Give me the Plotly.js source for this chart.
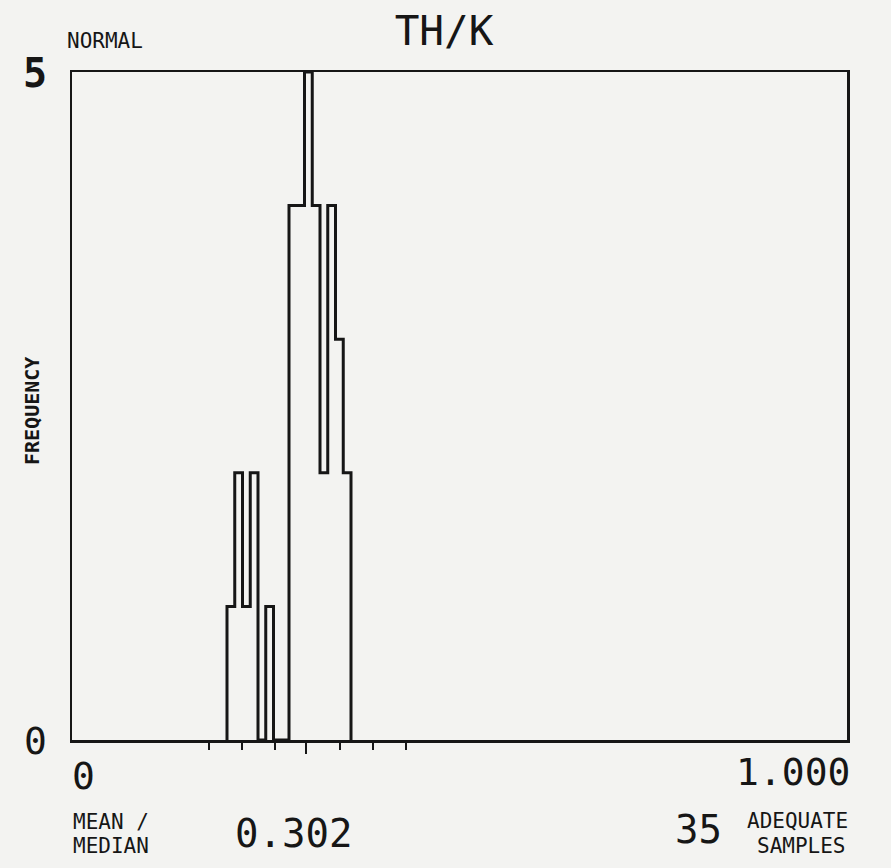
<!DOCTYPE html>
<html>
<head>
<meta charset="utf-8">
<script src="https://cdn.plot.ly/plotly-3.0.1.min.js"></script>
<style>
  html, body { margin: 0; padding: 0; background: #f3f3f1; }
  #chart { width: 891px; height: 868px; }
</style>
</head>
<body>
<div id="chart"></div>
<script>
// ---- data ----
const chartTitle = "TH/K";
const distributionLabel = "NORMAL";
const yAxisLabel = "FREQUENCY";
const binEdges = [0.20, 0.21, 0.22, 0.23, 0.24, 0.25, 0.26, 0.27, 0.28,
                  0.29, 0.30, 0.31, 0.32, 0.33, 0.34, 0.35, 0.36];
const binCounts = [1, 2, 1, 2, 0, 1, 0, 0, 4, 4, 5, 4, 2, 4, 3, 2];
const meanValue = 0.302;
const statLabel = ["MEAN /", "MEDIAN"];
const meanText = "0.302";
const sampleCount = "35";
const sampleLabel = ["ADEQUATE", "SAMPLES"];
const xTickValues = [0.177, 0.219, 0.262, 0.346, 0.389, 0.431];
const xRange = [0, 1];
const xRangeLabels = ["0", "1.000"];
const yRange = [0, 5];
const yRangeLabels = ["0", "5"];

// ---- step outline built from bins ----
const stepX = [binEdges[0]].concat(binEdges);
const stepY = [0].concat(binCounts).concat([0]);

const W = 891, H = 868;
const M = { l: 72, r: 44, t: 72, b: 128 };
const PW = W - M.l - M.r, PH = H - M.t - M.b;
const px = v => (v - M.l) / PW;      // pixel -> paper x
const py = v => (H - M.b - v) / PH;  // pixel -> paper y

const FONT = "DejaVu Sans Mono";
const INK = "#161616";

function ann(text, x, y, xa, size, extra) {
  return Object.assign({
    text: text, xref: "paper", yref: "paper", x: px(x), y: py(y),
    xanchor: xa, yanchor: "middle", showarrow: false,
    font: { family: FONT, size: size, color: INK }
  }, extra || {});
}

const traces = [
  {
    type: "scatter", mode: "lines", x: stepX, y: stepY,
    line: { shape: "hv", color: INK, width: 3 },
    hoverinfo: "skip", showlegend: false, cliponaxis: false
  },
  {
    type: "scatter", mode: "markers", x: [meanValue], y: [0],
    xaxis: "x2", yaxis: "y",
    marker: { opacity: 0, size: 1 }, hoverinfo: "skip", showlegend: false
  }
];

const layout = {
  width: W, height: H,
  margin: M,
  paper_bgcolor: "#f3f3f1",
  plot_bgcolor: "#f3f3f1",
  showlegend: false,
  title: {
    text: chartTitle, xref: "container", yref: "container",
    x: 444 / W, y: 1 - 31 / H, xanchor: "center", yanchor: "middle",
    font: { family: FONT, size: 41, color: INK }
  },
  xaxis: {
    range: xRange, showgrid: false, zeroline: false,
    showline: true, mirror: true, linecolor: INK, linewidth: 2.5,
    ticks: "outside", tickmode: "array", tickvals: xTickValues,
    ticklen: 7, tickwidth: 2, tickcolor: INK, showticklabels: false,
    fixedrange: true
  },
  xaxis2: {
    overlaying: "x", anchor: "y", side: "bottom",
    range: xRange, showgrid: false, zeroline: false, showline: false,
    ticks: "outside", tickmode: "array", tickvals: [meanValue],
    ticklen: 13, tickwidth: 2, tickcolor: INK, showticklabels: false,
    fixedrange: true
  },
  yaxis: {
    range: yRange, showgrid: false, zeroline: false,
    showline: true, mirror: true, linecolor: INK, linewidth: 2.5,
    ticks: "", showticklabels: false, fixedrange: true
  },
  annotations: [
    ann(distributionLabel, 65, 41, "left", 21),
    ann(yRangeLabels[1], 49, 73, "right", 40, { font: { family: FONT, size: 40, color: INK, weight: "bold" } }),
    ann(yRangeLabels[0], 49, 741, "right", 38),
    ann(xRangeLabels[0], 70, 776, "left", 38),
    ann(xRangeLabels[1], 852, 772, "right", 38),
    ann(yAxisLabel, 32, 411, "center", 20, { textangle: -90, font: { family: FONT, size: 20, color: INK, weight: "bold" } }),
    ann(statLabel[0], 71, 822, "left", 21),
    ann(statLabel[1], 71, 846, "left", 21),
    ann(meanText, 233, 833, "left", 39),
    ann(sampleCount, 724, 830, "right", 39),
    ann(sampleLabel[0], 850, 821, "right", 21),
    ann(sampleLabel[1], 848, 846, "right", 21)
  ]
};

Plotly.newPlot("chart", traces, layout, { displayModeBar: false, staticPlot: true });
</script>
</body>
</html>
